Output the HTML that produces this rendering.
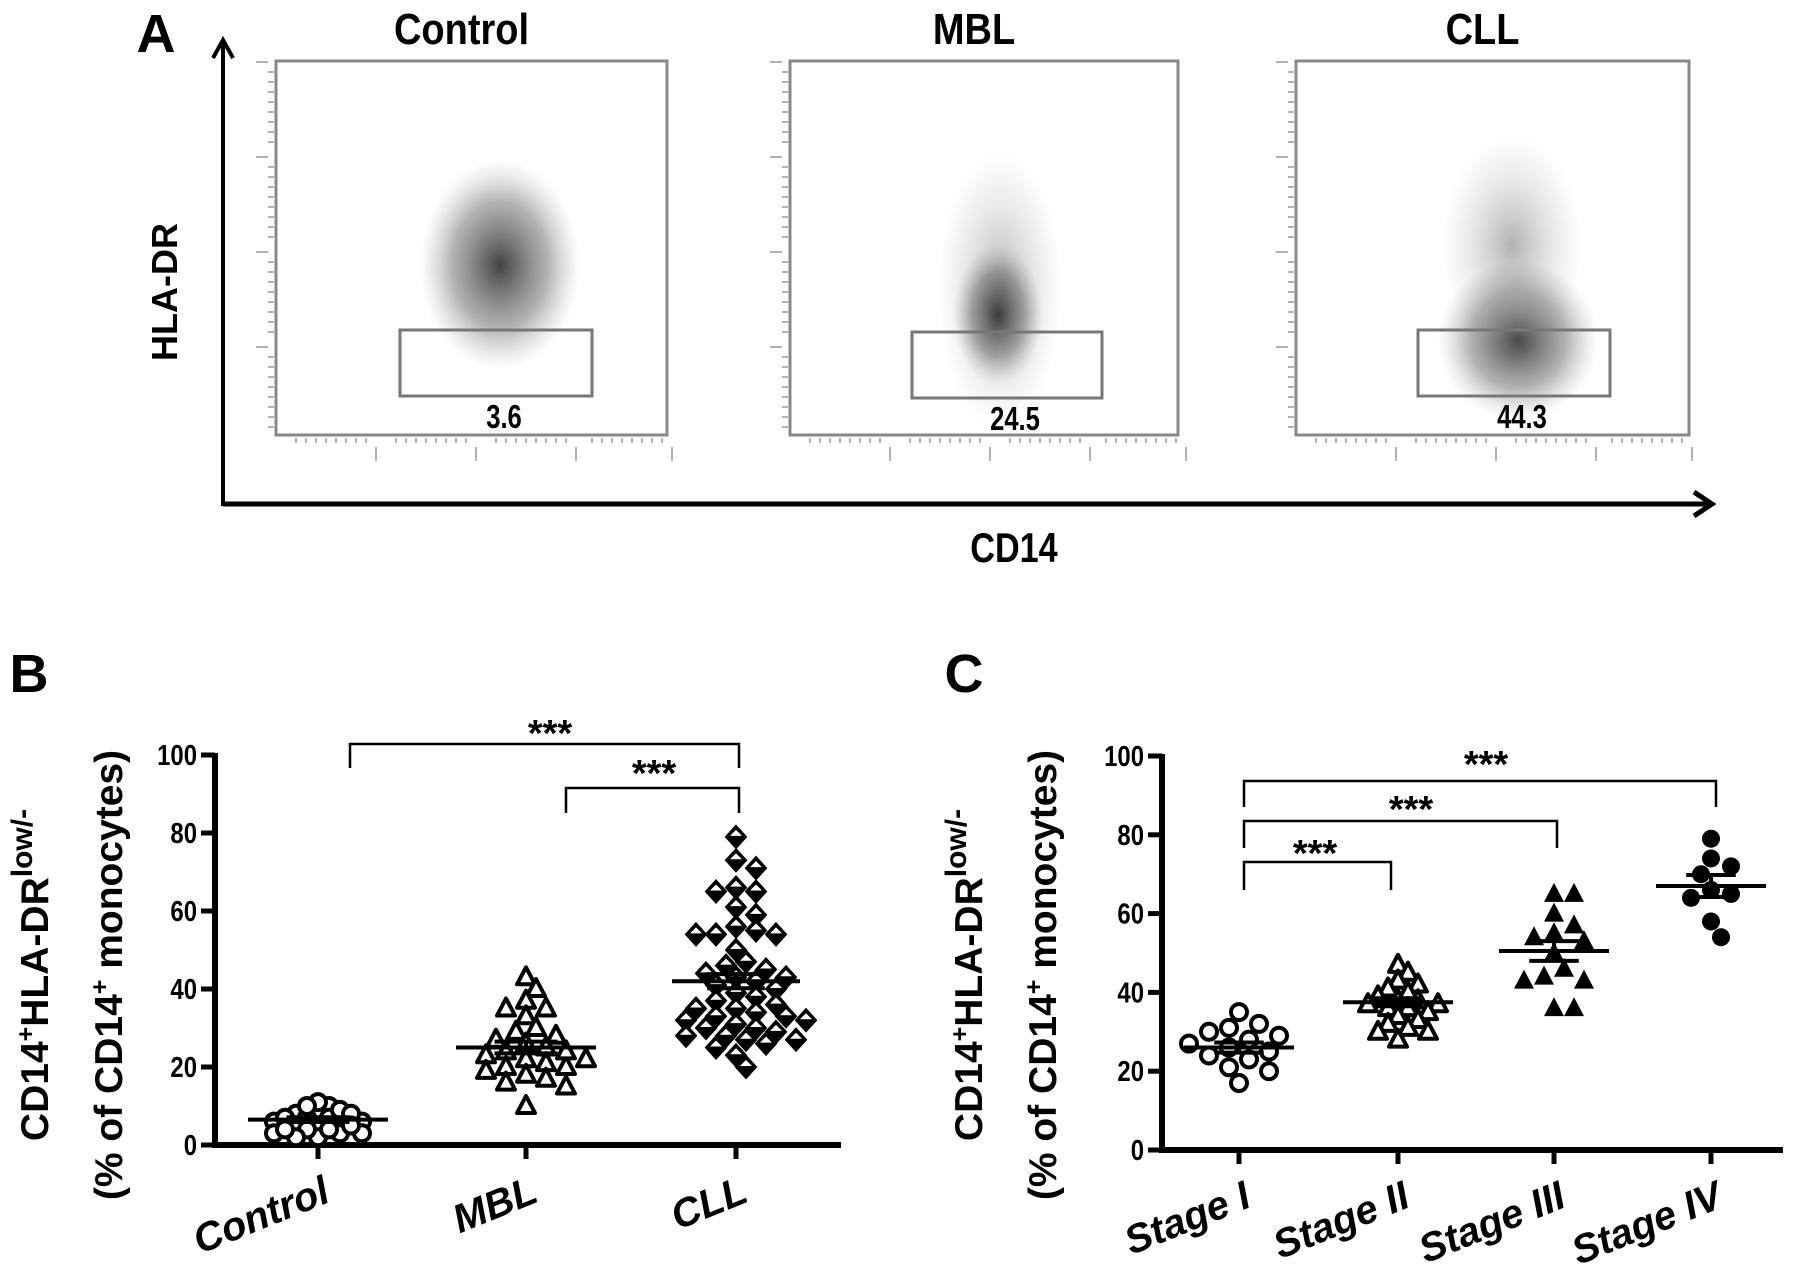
<!DOCTYPE html>
<html><head><meta charset="utf-8"><style>
html,body{margin:0;padding:0;background:#fff}
svg{display:block;font-family:"Liberation Sans",Arial,sans-serif;font-weight:bold}
</style></head><body>
<svg id="fig" width="1795" height="1278" viewBox="0 0 1795 1278" xmlns="http://www.w3.org/2000/svg">
<defs>
<radialGradient id="g1"><stop offset="0" stop-color="#222" stop-opacity="0.85"/><stop offset="0.6" stop-color="#555" stop-opacity="0.45"/><stop offset="1" stop-color="#999" stop-opacity="0"/></radialGradient>
<radialGradient id="g2"><stop offset="0" stop-color="#666" stop-opacity="0.5"/><stop offset="1" stop-color="#aaa" stop-opacity="0"/></radialGradient>
</defs>
<g id="panelA"></g>
<g id="panelB"></g>
<g id="panelC"></g>
</svg>
<script>
// ---------- Panel A data ----------
const flowTitles = ["Control","MBL","CLL"];
const flowGateValues = ["3.6","24.5","44.3"];
// ---------- Panel B data ----------
const bCategories = ["Control","MBL","CLL"];
const bControl = [8,10,11,6,7,3,5,2,4,9,8,6,3,5,7,4,2,6,8,3,7,5,4,10];
const bMBL = [43,40,37,35,35,33,29,30,28,27,26,25,24,23,22,21,20,20,19,18,17,16,15,10,24,22];
const bCLL = [79,73,71,66,65,65,61,59,56,55,54,54,54,50,47,46,45,44,43,43,42,41,40,39,38,37,36,35,35,34,33,33,32,32,31,30,30,29,28,28,27,27,26,25,23,20];
const bMeans = [6.5,25,42];
const bSem = [0.6,1.5,1.8];
const bYTicks = [0,20,40,60,80,100];
// ---------- Panel C data ----------
const cCategories = ["Stage I","Stage II","Stage III","Stage IV"];
const cStage1 = [35,32,31,30,29,28,27,26,25,24,23,21,20,17];
const cStage2 = [47,45,43,42,41,40,39,38,38,37,37,36,36,35,34,33,32,31,30,30,28];
const cStage3 = [65,65,60,57,55,54,53,50,46,44,43,43,36,36];
const cStage4 = [79,74,72,70,66,65,64,58,54];
const cMeans = [26,37.5,50.5,67];
const cSem = [1.3,1,2.5,2.8];
const cYTicks = [0,20,40,60,80,100];

const NS="http://www.w3.org/2000/svg";
function mk(parent,tag,attrs,text){const e=document.createElementNS(NS,tag);for(const k in attrs)e.setAttribute(k,attrs[k]);if(text!==undefined)e.textContent=text;parent.appendChild(e);return e;}

// ================= Panel A =================
const A=document.getElementById('panelA');
let t=mk(A,'text',{x:156,y:52,'font-size':54,'text-anchor':'middle'},'A');

let ax=mk(A,'path',{d:'M223,506 V40 M213,58 L223,40 L233,58',fill:'none',stroke:'#000','stroke-width':4});

ax=mk(A,'path',{d:'M223,504 H1712 M1694,492 L1712,504 L1694,516',fill:'none',stroke:'#000','stroke-width':5});

t=mk(A,'text',{x:0,y:0,'font-size':36,'text-anchor':'middle',transform:'translate(177,292) rotate(-90)'},'HLA-DR');

t=mk(A,'text',{x:0,y:0,'font-size':38,'text-anchor':'middle',transform:'translate(1014,562) scale(0.9,1.1)'},'CD14');

const boxes=[[276,667],[790,1178],[1296,1689]];
const gates=[[400,592,330,396],[912,1102,332,398],[1418,1610,330,396]];
const clouds=[[[500,265,80,105,'g1']],[[1000,290,62,140,'g2'],[998,315,45,70,'g1']],[[1518,340,80,80,'g1'],[1512,245,70,110,'g2']]];
for(let i=0;i<3;i++){
  const [x0,x1]=boxes[i];
  const g=mk(A,'g',{});
  
  t=mk(g,'text',{x:0,y:0,'font-size':40,'text-anchor':'middle',transform:`translate(${(x0+x1)/2-10},44) scale(0.95,1.1)`},flowTitles[i]);
  
  const r=mk(g,'rect',{x:x0,y:61,width:x1-x0,height:374,fill:'#fff',stroke:'#888','stroke-width':3});
  
  for(const c of clouds[i]){const e=mk(g,'ellipse',{cx:c[0],cy:c[1],rx:c[2],ry:c[3],fill:'url(#'+c[4]+')'});
    }
  let d='';
  for(let k=0;k<4;k++){const yy=62+k*95;d+=`M${x0-20},${yy}h12 `;for(let m=1;m<9;m++){d+=`M${x0-8},${yy+m*10}h6 `;}}
  for(let k=0;k<4;k++){const xx=x0+100*(k+1)-(k==3?4:0);d+=`M${xx},${447}v14 `;for(let m=1;m<9;m++){d+=`M${xx-m*10},438v5 `;}}
  const tk=mk(g,'path',{d:d,stroke:'#999','stroke-width':1.5,fill:'none'});
  
  const gr=gates[i];
  const gate=mk(g,'rect',{x:gr[0],y:gr[2],width:gr[1]-gr[0],height:gr[3]-gr[2],fill:'none',stroke:'#777','stroke-width':3});
  
  t=mk(g,'text',{x:0,y:0,'font-size':32,'text-anchor':'middle',transform:`translate(${(gr[0]+gr[1])/2+8},${gr[3]+32}) scale(0.8,1.05)`},flowGateValues[i]);
  
}

// ============ dot plot helper ============
function swarm(vals,cx,yfn,step,coll){
  const order=vals.map((v,i)=>i).sort((a,b)=>vals[b]-vals[a]);
  const placed=[];const out=new Array(vals.length);
  for(const i of order){const y=yfn(vals[i]);let k=0;let x;
    while(true){const off=(k%2?1:-1)*Math.ceil(k/2)*step;x=cx+off;
      if(!placed.some(p=>Math.hypot(p[0]-x,p[1]-y)<coll))break;k++;}
    placed.push([x,y]);out[i]=[x,y];}
  return out;
}
function marker(g,type,x,y){
  let e;
  if(type==='ocirc'){e=mk(g,'circle',{cx:x,cy:y,r:8,fill:'#fff',stroke:'#000','stroke-width':4});}
  else if(type==='fcirc'){e=mk(g,'circle',{cx:x,cy:y,r:9,fill:'#000'});}
  else if(type==='otri'){e=mk(g,'path',{d:`M${x},${y-10}L${x+9},${y+7}L${x-9},${y+7}Z`,fill:'#fff',stroke:'#000','stroke-width':4,'stroke-linejoin':'round'});}
  else if(type==='ftri'){e=mk(g,'path',{d:`M${x},${y-11}L${x+10},${y+8}L${x-10},${y+8}Z`,fill:'#000'});}
  else if(type==='diam'){e=mk(g,'path',{d:`M${x},${y-11}L${x+10},${y}L${x},${y+11}L${x-10},${y}Z`,fill:'#000',stroke:'#000','stroke-width':2});
    const w=mk(g,'path',{d:`M${x},${y-7}L${x+6},${y-1}L${x-6},${y-1}Z`,fill:'#fff'});
    }
  
}
function axes(P,x0,x1,y0,y100,ticks,cats,catX,prefix){
  const yfn=v=>y0+(y100-y0)*v/100;
  const a=mk(P,'path',{d:`M${x0},${y100-2}V${y0}H${x1}`,fill:'none',stroke:'#000','stroke-width':6});
  
  for(const v of ticks){
    const tl=mk(P,'line',{x1:x0-14,x2:x0,y1:yfn(v),y2:yfn(v),stroke:'#000','stroke-width':5});
    
    const tx=mk(P,'text',{x:0,y:0,'font-size':26,'text-anchor':'end',transform:`translate(${x0-18},${yfn(v)+10}) scale(0.92,1.1)`},String(v));
    
  }
  cats.forEach((c,i)=>{
    const tl=mk(P,'line',{x1:catX(i),x2:catX(i),y1:y0,y2:y0+14,stroke:'#000','stroke-width':5});
    
    const tx=mk(P,'text',{x:0,y:0,'font-size':40,'font-style':'italic','text-anchor':'end',transform:`translate(${catX(i)+14},${y0+56}) rotate(-22)`},c);
    
  });
  return yfn;
}
function ytitle(P,x1,x2,cy){
  let t=mk(P,'text',{x:0,y:0,'font-size':39,'text-anchor':'middle',transform:`translate(${x1},${cy}) rotate(-90)`});
  
  t.innerHTML='CD14<tspan baseline-shift="super" font-size="25">+</tspan>HLA-DR<tspan baseline-shift="super" font-size="30">low/-</tspan>';
  t=mk(P,'text',{x:0,y:0,'font-size':39,'text-anchor':'middle',transform:`translate(${x2},${cy}) rotate(-90)`});
  
  t.innerHTML='(% of CD14<tspan baseline-shift="super" font-size="25">+</tspan> monocytes)';
}
function bracket(P,xa,xb,y,ya,yb,sx,sy){
  const b=mk(P,'path',{d:`M${xa},${ya}V${y}H${xb}V${yb}`,fill:'none',stroke:'#000','stroke-width':2.5});
  
  const s=mk(P,'text',{x:sx,y:sy+16,'font-size':38,'text-anchor':'middle'},'***');
  
}
function meanBar(P,x,yfn,m,sem,half){
  const l=mk(P,'path',{d:`M${x-half},${yfn(m)}H${x+half} M${x},${yfn(m+sem)}V${yfn(m-sem)} M${x-half*0.45},${yfn(m+sem)}H${x+half*0.45} M${x-half*0.45},${yfn(m-sem)}H${x+half*0.45}`,stroke:'#000','stroke-width':4,fill:'none'});
  
}

// ================= Panel B =================
const B=document.getElementById('panelB');
t=mk(B,'text',{x:29,y:692,'font-size':54,'text-anchor':'middle'},'B');

const bX=i=>[318,526,736][i];
const byf=axes(B,215,841,1145,755,bYTicks,bCategories,bX,'panel-b');
ytitle(B,48,122,975);
const bSeries=[bControl,bMBL,bCLL];const bTypes=['ocirc','otri','diam'];
const bSwarmStep=[11,10,10];const bSwarmColl=[9,15,15];
bSeries.forEach((s,i)=>{const g=mk(B,'g',{});
  swarm(s,bX(i),byf,bSwarmStep[i],bSwarmColl[i]).forEach(p=>marker(g,bTypes[i],p[0],p[1]));
  meanBar(B,bX(i),byf,bMeans[i],bSem[i],i==2?64:70);});
bracket(B,350,739,744,768,768,550,730);
bracket(B,566,739,788,813,813,654,770);

// ================= Panel C =================
const C=document.getElementById('panelC');
t=mk(C,'text',{x:964,y:692,'font-size':54,'text-anchor':'middle'},'C');

const cX=i=>[1239,1398,1554,1711][i];
const cyf=axes(C,1162,1783,1150,756,cYTicks,cCategories,cX,'panel-c');
ytitle(C,982,1056,975);
const cSeries=[cStage1,cStage2,cStage3,cStage4];const cTypes=['ocirc','otri','ftri','fcirc'];
cSeries.forEach((s,i)=>{const g=mk(C,'g',{});
  swarm(s,cX(i),cyf,10,i==1?12:16).forEach(p=>marker(g,cTypes[i],p[0],p[1]));
  meanBar(C,cX(i),cyf,cMeans[i],cSem[i],55);});
bracket(C,1244,1716,781,807,807,1486,761);
bracket(C,1244,1557,821,848,848,1411,806);
bracket(C,1244,1391,862,890,890,1315,850);
</script>
</body></html>
